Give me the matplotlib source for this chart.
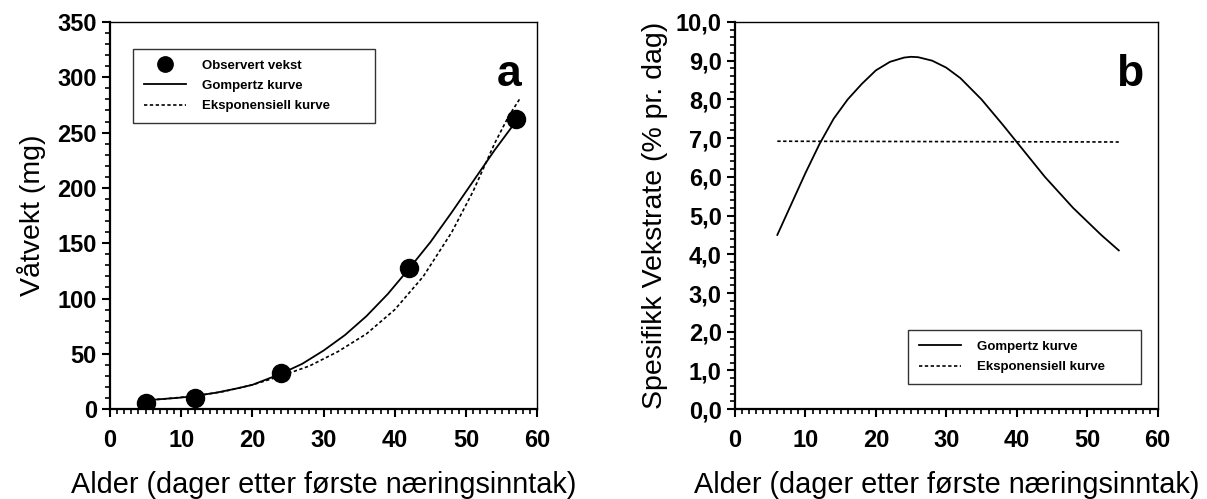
import matplotlib
matplotlib.use("Agg")
import matplotlib.pyplot as plt
from matplotlib.ticker import MultipleLocator, FuncFormatter

plt.rcParams['font.family'] = ['Liberation Sans', 'DejaVu Sans']

# observed growth (panel a)
obs_age = [5, 12, 24, 42, 57]
obs_weight = [6, 10, 33, 128, 262]

# fitted curves
gomp_age = [5, 8, 10, 12, 15, 18, 20, 22, 24, 27, 30, 33, 36, 39, 42, 45, 48, 51, 54, 57]
gomp_weight = [8, 9.5, 10.5, 12, 15, 19, 22, 27, 32, 41, 53, 67, 84, 104, 127, 151, 178, 206, 234, 260]
exp_age = [5, 8, 12, 16, 20, 24, 28, 32, 36, 40, 44, 48, 51, 54, 56, 57.5]
exp_weight = [8, 9.5, 12, 16, 22, 30, 39, 52, 68, 90, 120, 160, 197, 240, 265, 280]

# specific growth rate (panel b)
sgr_age = [6, 8, 10, 12, 14, 16, 18, 20, 22, 24, 25, 26, 28, 30, 32, 35, 38, 40, 42, 44, 46, 48, 50, 52, 54.5]
sgr_gomp = [4.5, 5.3, 6.1, 6.85, 7.5, 8.0, 8.4, 8.75, 8.97, 9.08, 9.1, 9.09, 9.0, 8.82, 8.55, 8.0, 7.35,
            6.9, 6.45, 6.0, 5.6, 5.2, 4.85, 4.5, 4.1]
sgr_exp_age = [6, 54.5]
sgr_exp = [6.92, 6.9]

xlabel = "Alder (dager etter første næringsinntak)"

fig = plt.figure(figsize=(12.07, 4.99), dpi=100)
ax1 = fig.add_axes([0.0911, 0.180, 0.354, 0.776])
ax2 = fig.add_axes([0.609, 0.180, 0.350, 0.776])

dash = (0, (2, 1.5))
legend_style = dict(prop=dict(size=9.5, weight='bold'), frameon=True, fancybox=False,
                    edgecolor='black', handlelength=3.2, borderpad=0.8, labelspacing=0.6,
                    handletextpad=1.2, borderaxespad=0, mode='expand', loc='upper left')

# panel a
ax1.plot(gomp_age, gomp_weight, color='black', lw=1.3, label='Gompertz kurve')
ax1.plot(exp_age, exp_weight, color='black', lw=1.2, ls=dash, label='Eksponensiell kurve')
ax1.plot(obs_age, obs_weight, 'o', color='black', ms=13, label='Observert vekst')
ax1.set_xlim(0, 60)
ax1.set_ylim(0, 350)
ax1.xaxis.set_major_locator(MultipleLocator(10))
ax1.xaxis.set_minor_locator(MultipleLocator(1))
ax1.yaxis.set_major_locator(MultipleLocator(50))
ax1.yaxis.set_minor_locator(MultipleLocator(10))
ax1.set_ylabel("Våtvekt (mg)", fontsize=20.5, labelpad=8)
ax1.set_xlabel(xlabel, fontsize=20.8, labelpad=14)
ax1.text(0.935, 0.865, "a", transform=ax1.transAxes, fontsize=32, fontweight='bold', ha='center', va='center')
h, l = ax1.get_legend_handles_labels()
leg1 = ax1.legend([h[2], h[0], h[1]], [l[2], l[0], l[1]],
                  bbox_to_anchor=(0.054, 0.930, 0.567, 0.0), markerscale=0.85, **legend_style)
leg1.get_frame().set_linewidth(1.0)

# panel b
ax2.plot(sgr_age, sgr_gomp, color='black', lw=1.3, label='Gompertz kurve')
ax2.plot(sgr_exp_age, sgr_exp, color='black', lw=1.2, ls=dash, label='Eksponensiell kurve')
ax2.set_xlim(0, 60)
ax2.set_ylim(0, 10)
ax2.xaxis.set_major_locator(MultipleLocator(10))
ax2.xaxis.set_minor_locator(MultipleLocator(1))
ax2.yaxis.set_major_locator(MultipleLocator(1))
ax2.yaxis.set_minor_locator(MultipleLocator(0.2))
ax2.yaxis.set_major_formatter(FuncFormatter(lambda v, p: f"{v:.1f}".replace('.', ',')))
ax2.set_ylabel("Spesifikk Vekstrate (% pr. dag)", fontsize=20.5, labelpad=6)
ax2.set_xlabel(xlabel, fontsize=20.8, labelpad=14)
ax2.text(0.935, 0.865, "b", transform=ax2.transAxes, fontsize=32, fontweight='bold', ha='center', va='center')
leg2 = ax2.legend(bbox_to_anchor=(0.41, 0.204, 0.55, 0.0), **legend_style)
leg2.get_frame().set_linewidth(1.0)

for ax in (ax1, ax2):
    for side in ('top', 'right'):
        ax.spines[side].set_linewidth(1.0)
    for side in ('left', 'bottom'):
        ax.spines[side].set_linewidth(1.6)
    ax.tick_params(which='major', direction='out', length=6, width=1.5, labelsize=17)
    ax.tick_params(axis='x', which='major', pad=8)
    ax.tick_params(which='minor', direction='out', length=3.5, width=1.2)
    for lab in ax.get_xticklabels() + ax.get_yticklabels():
        lab.set_fontweight('bold')

fig.savefig("out.png", dpi=100)
